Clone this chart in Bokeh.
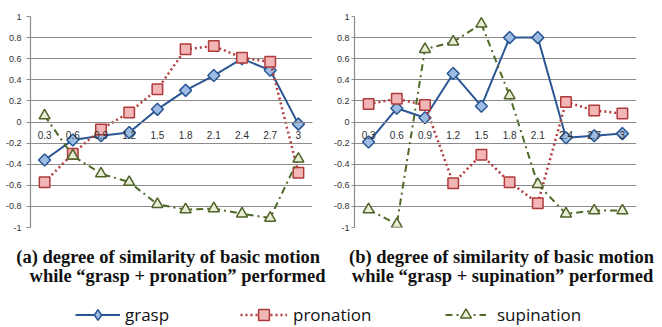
import math
from bokeh.plotting import figure
from bokeh.layouts import row, column
from bokeh.models import (FactorRange, Range1d, FixedTicker, Legend, LegendItem,
                          ColumnDataSource)
from bokeh.core.properties import value
from bokeh.embed import file_html
from bokeh.resources import INLINE

# ---------------- data ----------------
categories = ["0.3", "0.6", "0.9", "1.2", "1.5", "1.8", "2.1", "2.4", "2.7", "3"]

# (a) grasp + pronation performed
a_grasp = [-0.36, -0.17, -0.13, -0.10, 0.12, 0.30, 0.44, 0.60, 0.49, -0.02]
a_pronation = [-0.57, -0.30, -0.07, 0.09, 0.31, 0.69, 0.72, 0.61, 0.57, -0.48]
a_supination = [0.06, -0.32, -0.49, -0.57, -0.78, -0.83, -0.82, -0.87, -0.91, -0.35]

# (b) grasp + supination performed
b_grasp = [-0.19, 0.13, 0.04, 0.46, 0.15, 0.80, 0.80, -0.15, -0.13, -0.11]
b_pronation = [0.17, 0.22, 0.16, -0.58, -0.31, -0.57, -0.77, 0.19, 0.11, 0.08]
b_supination = [-0.83, -0.97, 0.69, 0.76, 0.93, 0.25, -0.59, -0.87, -0.84, -0.84]

y_ticks = [-1, -0.8, -0.6, -0.4, -0.2, 0, 0.2, 0.4, 0.6, 0.8, 1]
y_tick_labels = ["-1", "-0.8", "-0.6", "-0.4", "-0.2", "0", "0.2", "0.4", "0.6", "0.8", "1"]

series_names = ["grasp", "pronation", "supination"]

caption_a = ["(a) degree of similarity of  basic motion",
             "while \u201cgrasp + pronation\u201d performed"]
caption_b = ["(b) degree of similarity of basic motion",
             "while \u201cgrasp + supination\u201d performed"]

# ---------------- styles ----------------
GRID = "#8c8c8c"
TICK_TXT = "#303030"
styles = {
    "grasp": dict(line_color="#2a5694", line_width=2, line_dash="solid",
                  marker="square", angle=math.pi / 4, size=8.5,
                  fill_color="#9dbce3", mline="#2a5694", legend_marker="diamond"),
    "pronation": dict(line_color="#b23b3b", line_width=2.5, line_dash="2 3",
                      marker="square", angle=0, size=10.5,
                      fill_color="#f2b6b6", mline="#b03a3a", legend_marker="square"),
    "supination": dict(line_color="#4f6a28", line_width=2, line_dash="7 4 2 4",
                       marker="triangle", angle=0, size=11,
                       fill_color="#e8eed6", mline="#4f6228", legend_marker="triangle"),
}


def draw_series(p, xs, ys, name, for_legend=False):
    st = styles[name]
    src = ColumnDataSource(dict(x=xs, y=ys))
    r1 = p.line("x", "y", source=src, line_color=st["line_color"],
                line_width=st["line_width"], line_dash=st["line_dash"])
    r2 = p.scatter("x", "y", source=src,
                   marker=st["legend_marker"] if for_legend else st["marker"],
                   angle=0 if for_legend else st["angle"],
                   size=st["size"], fill_color=st["fill_color"],
                   line_color=st["mline"], line_width=1.5)
    return r1, r2


def make_chart(width, height, bl, br, bt, bb, series, tick_out, standoff):
    p = figure(width=width, height=height, x_range=FactorRange(*categories, range_padding=0),
               y_range=Range1d(-1, 1), output_backend="svg", toolbar_location=None,
               min_border_left=bl, min_border_right=br, min_border_top=bt,
               min_border_bottom=bb)
    p.outline_line_color = None
    p.background_fill_color = "white"
    p.border_fill_color = "white"
    p.xgrid.visible = False
    p.ygrid.ticker = FixedTicker(ticks=y_ticks)
    p.ygrid.grid_line_color = GRID
    p.ygrid.grid_line_width = 1.2

    yax = p.yaxis[0]
    yax.ticker = FixedTicker(ticks=y_ticks)
    yax.major_label_overrides = dict(zip(y_ticks, y_tick_labels))
    yax.axis_line_color = GRID
    yax.axis_line_width = 1.2
    yax.major_tick_line_color = GRID
    yax.major_tick_out = tick_out
    yax.major_tick_in = 0
    yax.minor_tick_line_color = None
    yax.major_label_standoff = standoff
    yax.major_label_text_font = "Liberation Sans"
    yax.major_label_text_font_size = "9px"
    yax.major_label_text_color = TICK_TXT

    xax = p.xaxis[0]
    xax.fixed_location = 0
    xax.axis_line_color = GRID
    xax.axis_line_width = 1.2
    xax.major_tick_line_color = None
    xax.major_tick_out = 0
    xax.major_tick_in = 0
    xax.major_label_standoff = 9
    xax.major_label_text_font = "Liberation Sans"
    xax.major_label_text_font_size = "10px"
    xax.major_label_text_color = TICK_TXT

    for name, ys in zip(series_names, series):
        draw_series(p, categories, ys, name)
    return p


p1 = make_chart(330, 248, 30, 18, 16, 21, [a_grasp, a_pronation, a_supination], 4, 5)
p2 = make_chart(332, 248, 23, 26, 13, 21, [b_grasp, b_pronation, b_supination], 3, 2)

# ---------------- captions + legend ----------------
W3, H3 = 662, 79
p3 = figure(width=W3, height=H3, x_range=Range1d(0, W3), y_range=Range1d(H3, 0),
            x_axis_type=None, y_axis_type=None, output_backend="svg",
            toolbar_location=None, min_border=0)
p3.outline_line_color = None
p3.grid.visible = False
p3.background_fill_color = "white"
p3.border_fill_color = "white"

cap_src = ColumnDataSource(dict(
    x=[170, 177, 501, 502],
    y=[8.5, 27.5, 8.5, 27.5],
    t=[caption_a[0], caption_a[1], caption_b[0], caption_b[1]],
))
p3.text("x", "y", text="t", source=cap_src, text_font=value("Liberation Serif"),
        text_font_style="bold", text_font_size="18.5px", text_color="#111111",
        text_align="center", text_baseline="middle")

nan = float("nan")
legend_x = {"grasp": 75, "pronation": 240, "supination": 445}
legend_glyph_w = {"grasp": 45, "pronation": 47, "supination": 41}
legend_standoff = {"grasp": 5, "pronation": 6, "supination": 11}
for name in series_names:
    r1, r2 = draw_series(p3, [nan], [nan], name, for_legend=True)
    lg = Legend(items=[LegendItem(label=name, renderers=[r1, r2])],
                location=(legend_x[name], -1), orientation="horizontal",
                glyph_width=legend_glyph_w[name], glyph_height=27, label_height=27,
                label_standoff=legend_standoff[name], padding=0, margin=0, spacing=0,
                border_line_color=None, background_fill_alpha=0,
                label_text_font="Open Sans", label_text_font_size="17px",
                label_text_color="#111111", label_text_baseline="middle")
    p3.add_layout(lg, "center")

layout = column(row(p1, p2), p3)

open("out.html", "w").write(file_html(layout, INLINE))
